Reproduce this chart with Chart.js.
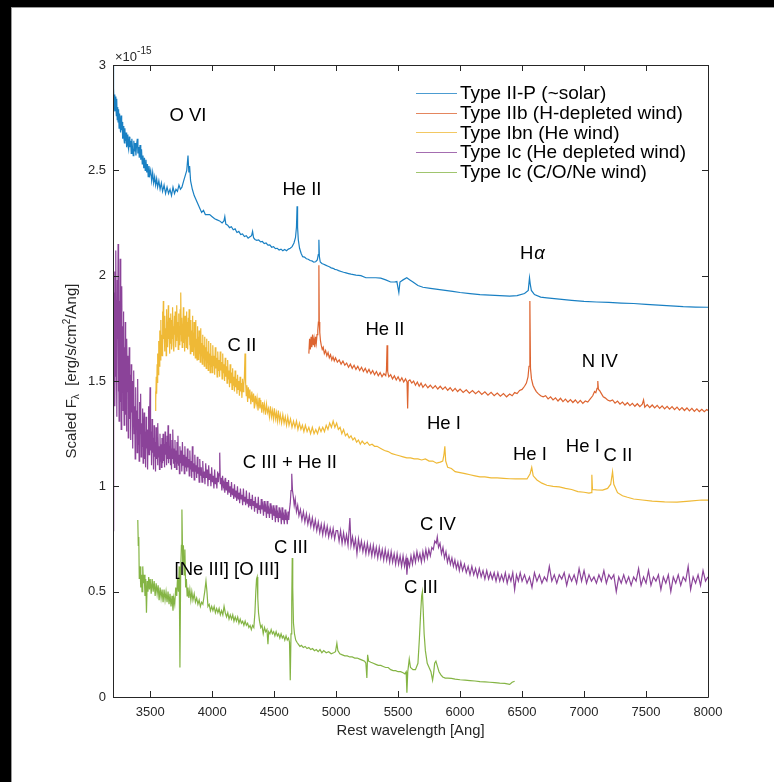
<!DOCTYPE html>
<html>
<head>
<meta charset="utf-8">
<script src="https://cdn.jsdelivr.net/npm/chart.js@4.4.1/dist/chart.umd.min.js"></script>
<style>
  body { margin: 0; background: #fff; }
  canvas { display: block; }
</style>
</head>
<body>
<canvas id="myChart" width="774" height="782"></canvas>
<script>
// spectra: [rest wavelength (Ang), flux (1e-15 erg/s/cm2/Ang)]
const typeIIP = [[3200,3.00],[3203,2.80],[3206,2.89],[3209,2.82],[3213,2.86],[3216,2.78],[3220,2.85],[3223,2.80],[3227,2.76],[3230,2.84],
  [3234,2.74],[3238,2.80],[3241,2.73],[3245,2.79],[3249,2.70],[3253,2.77],[3257,2.72],[3261,2.68],[3265,2.76],[3270,2.69],
  [3274,2.73],[3278,2.65],[3283,2.71],[3287,2.66],[3292,2.63],[3296,2.70],[3300,2.64],[3305,2.68],[3310,2.61],[3315,2.67],
  [3320,2.62],[3326,2.60],[3331,2.66],[3336,2.61],[3342,2.64],[3347,2.58],[3352,2.65],[3358,2.60],[3363,2.57],[3368,2.64],
  [3374,2.59],[3379,2.63],[3385,2.57],[3390,2.62],[3396,2.65],[3401,2.58],[3407,2.61],[3412,2.56],[3418,2.62],[3424,2.55],
  [3430,2.60],[3436,2.53],[3442,2.57],[3448,2.51],[3454,2.56],[3460,2.50],[3466,2.55],[3472,2.49],[3478,2.53],[3484,2.47],
  [3490,2.52],[3497,2.48],[3504,2.50],[3512,2.45],[3520,2.49],[3528,2.44],[3536,2.47],[3544,2.43],[3552,2.46],[3560,2.42],
  [3570,2.45],[3580,2.41],[3590,2.44],[3600,2.40],[3612,2.43],[3624,2.39],[3636,2.42],[3648,2.39],[3660,2.41],[3672,2.38],
  [3684,2.42],[3696,2.39],[3708,2.41],[3720,2.40],[3732,2.43],[3744,2.41],[3756,2.42],[3770,2.45],[3785,2.48],[3795,2.50],
  [3805,2.57],[3812,2.49],[3818,2.52],[3826,2.45],[3840,2.41],[3855,2.38],[3870,2.36],[3885,2.34],[3900,2.32],[3915,2.30],
  [3930,2.31],[3945,2.29],[3960,2.29],[3980,2.29],[4000,2.28],[4020,2.27],[4040,2.265],[4060,2.26],[4080,2.25],[4095,2.26],
  [4102,2.28],[4110,2.245],[4125,2.24],[4140,2.228],[4155,2.232],[4170,2.218],[4185,2.222],[4200,2.205],[4215,2.21],[4230,2.195],
  [4245,2.198],[4260,2.186],[4275,2.19],[4290,2.178],[4305,2.185],[4318,2.19],[4326,2.21],[4334,2.18],[4345,2.172],[4360,2.168],
  [4375,2.17],[4390,2.16],[4405,2.162],[4420,2.152],[4435,2.155],[4450,2.145],[4465,2.146],[4480,2.135],[4495,2.138],[4510,2.128],
  [4525,2.13],[4540,2.122],[4555,2.126],[4570,2.118],[4585,2.124],[4600,2.118],[4615,2.126],[4630,2.13],[4645,2.138],[4660,2.155],
  [4672,2.18],[4680,2.23],[4685,2.33],[4689,2.23],[4695,2.17],[4705,2.13],[4718,2.105],[4730,2.09],[4745,2.088],[4760,2.08],
  [4775,2.078],[4790,2.072],[4805,2.07],[4820,2.064],[4835,2.066],[4848,2.075],[4856,2.10],[4861,2.17],[4865,2.09],[4872,2.065],
  [4885,2.058],[4900,2.054],[4915,2.05],[4930,2.046],[4945,2.042],[4960,2.037],[4975,2.035],[4990,2.03],[5005,2.028],[5020,2.024],
  [5040,2.02],[5060,2.016],[5080,2.013],[5100,2.01],[5120,2.007],[5140,2.005],[5160,2.003],[5200,2.0],[5240,1.99],[5280,1.99],
  [5320,1.99],[5360,1.988],[5400,1.98],[5440,1.97],[5470,1.97],[5490,1.972],[5506,1.92],[5515,1.97],[5540,1.98],[5570,1.99],
  [5595,1.98],[5620,1.97],[5660,1.953],[5700,1.945],[5760,1.94],[5820,1.935],[5880,1.93],[5940,1.925],[6000,1.92],[6080,1.915],
  [6160,1.91],[6240,1.908],[6320,1.905],[6400,1.903],[6460,1.905],[6520,1.915],[6550,1.93],[6560,1.99],[6566,1.96],[6575,1.93],
  [6600,1.91],[6650,1.898],[6700,1.895],[6800,1.889],[6900,1.883],[7000,1.878],[7100,1.875],[7200,1.873],[7300,1.87],[7400,1.868],
  [7500,1.864],[7600,1.86],[7700,1.857],[7800,1.853],[7900,1.851],[8000,1.85]]

const typeIIb = [[4780,1.63],[4786,1.70],[4792,1.65],[4798,1.71],[4804,1.66],[4810,1.72],[4816,1.67],[4822,1.70],[4828,1.66],[4834,1.71],
  [4840,1.68],[4846,1.72],[4852,1.74],[4857,1.78],[4861,2.05],[4864,1.78],[4868,1.73],[4874,1.69],[4880,1.67],[4888,1.65],
  [4896,1.66],[4905,1.63],[4915,1.645],[4925,1.62],[4935,1.635],[4945,1.61],[4955,1.625],[4965,1.60],[4975,1.615],[4985,1.595],
  [4995,1.61],[5010,1.59],[5025,1.60],[5040,1.58],[5055,1.595],[5070,1.575],[5085,1.585],[5100,1.565],[5115,1.58],[5130,1.56],
  [5145,1.575],[5160,1.555],[5175,1.57],[5190,1.55],[5205,1.565],[5220,1.545],[5235,1.56],[5250,1.54],[5265,1.555],[5280,1.535],
  [5295,1.55],[5310,1.53],[5325,1.545],[5340,1.525],[5355,1.54],[5370,1.52],[5385,1.535],[5400,1.525],[5406,1.55],[5411,1.67],
  [5416,1.545],[5425,1.52],[5440,1.53],[5455,1.51],[5470,1.525],[5485,1.505],[5500,1.52],[5515,1.50],[5530,1.515],[5545,1.495],
  [5560,1.51],[5572,1.495],[5577,1.37],[5582,1.50],[5595,1.505],[5610,1.49],[5625,1.50],[5640,1.48],[5655,1.495],[5670,1.475],
  [5685,1.49],[5700,1.47],[5720,1.485],[5740,1.468],[5760,1.48],[5780,1.465],[5800,1.478],[5820,1.462],[5840,1.475],[5860,1.46],
  [5880,1.472],[5900,1.456],[5920,1.468],[5940,1.452],[5960,1.465],[5980,1.45],[6000,1.462],[6025,1.446],[6050,1.458],[6075,1.442],
  [6100,1.455],[6125,1.44],[6150,1.452],[6175,1.436],[6200,1.449],[6225,1.433],[6250,1.446],[6275,1.43],[6300,1.443],[6325,1.428],
  [6350,1.44],[6375,1.425],[6400,1.438],[6420,1.43],[6440,1.445],[6460,1.44],[6480,1.455],[6500,1.46],[6520,1.475],[6535,1.49],
  [6548,1.52],[6556,1.57],[6563,1.88],[6568,1.56],[6576,1.51],[6588,1.48],[6600,1.465],[6615,1.45],[6630,1.44],[6650,1.43],
  [6670,1.425],[6690,1.43],[6710,1.415],[6730,1.425],[6750,1.41],[6770,1.42],[6790,1.405],[6810,1.418],[6830,1.402],[6850,1.414],
  [6870,1.40],[6890,1.412],[6910,1.398],[6930,1.41],[6950,1.395],[6970,1.408],[6990,1.394],[7010,1.405],[7030,1.40],[7050,1.415],
  [7070,1.43],[7085,1.45],[7095,1.445],[7105,1.465],[7111,1.50],[7116,1.46],[7125,1.455],[7140,1.44],[7155,1.425],[7170,1.42],
  [7190,1.41],[7210,1.405],[7230,1.41],[7250,1.395],[7270,1.405],[7290,1.39],[7310,1.40],[7330,1.386],[7350,1.397],[7370,1.383],
  [7390,1.394],[7410,1.38],[7430,1.392],[7450,1.378],[7470,1.39],[7480,1.41],[7490,1.376],[7510,1.388],[7530,1.374],[7550,1.386],
  [7570,1.372],[7590,1.384],[7610,1.37],[7630,1.382],[7650,1.368],[7670,1.38],[7690,1.366],[7710,1.378],[7730,1.364],[7750,1.376],
  [7770,1.362],[7790,1.374],[7810,1.36],[7830,1.372],[7850,1.358],[7870,1.37],[7890,1.356],[7910,1.368],[7930,1.355],[7950,1.366],
  [7970,1.354],[7990,1.365],[8000,1.36]]

const typeIbn = [[3540,1.36],[3543,1.45],[3546,1.40],[3549,1.52],[3552,1.44],[3556,1.58],[3559,1.49],[3562,1.63],[3566,1.53],[3569,1.69],
  [3572,1.57],[3576,1.66],[3579,1.74],[3582,1.60],[3586,1.79],[3589,1.65],[3592,1.72],[3596,1.62],[3599,1.83],[3602,1.67],
  [3606,1.88],[3609,1.70],[3612,1.77],[3616,1.64],[3619,1.81],[3622,1.69],[3626,1.75],[3629,1.62],[3632,1.84],[3636,1.71],
  [3639,1.78],[3642,1.66],[3646,1.86],[3649,1.70],[3652,1.76],[3656,1.63],[3659,1.80],[3662,1.68],[3666,1.82],[3669,1.73],
  [3672,1.65],[3676,1.79],[3679,1.70],[3682,1.85],[3686,1.67],[3689,1.76],[3692,1.64],[3696,1.81],[3699,1.72],[3702,1.83],
  [3706,1.66],[3709,1.75],[3712,1.69],[3716,1.86],[3719,1.71],[3722,1.78],[3726,1.65],[3729,1.82],[3732,1.70],[3736,1.76],
  [3739,1.67],[3742,1.84],[3745,1.72],[3748,1.92],[3751,1.69],[3754,1.80],[3758,1.66],[3761,1.77],[3764,1.71],[3768,1.85],
  [3771,1.68],[3774,1.79],[3778,1.64],[3781,1.81],[3784,1.72],[3788,1.76],[3791,1.66],[3794,1.83],[3798,1.69],[3801,1.78],
  [3804,1.65],[3808,1.80],[3811,1.71],[3814,1.84],[3818,1.67],[3821,1.75],[3824,1.63],[3828,1.79],[3831,1.69],[3834,1.74],
  [3838,1.64],[3841,1.81],[3844,1.67],[3848,1.73],[3851,1.62],[3854,1.78],[3858,1.66],[3861,1.72],[3864,1.61],[3868,1.79],
  [3871,1.65],[3874,1.70],[3878,1.60],[3881,1.76],[3884,1.66],[3888,1.71],[3891,1.60],[3894,1.74],[3898,1.63],[3901,1.69],
  [3904,1.59],[3908,1.75],[3912,1.62],[3916,1.68],[3920,1.58],[3924,1.72],[3928,1.61],[3932,1.67],[3936,1.57],[3940,1.71],
  [3944,1.60],[3948,1.66],[3952,1.56],[3956,1.70],[3960,1.59],[3964,1.64],[3968,1.55],[3972,1.69],[3976,1.58],[3980,1.63],
  [3984,1.54],[3988,1.68],[3992,1.57],[3996,1.62],[4000,1.54],[4005,1.67],[4010,1.57],[4015,1.62],[4020,1.53],[4025,1.66],
  [4030,1.56],[4035,1.61],[4040,1.52],[4045,1.64],[4050,1.55],[4055,1.60],[4060,1.52],[4065,1.64],[4070,1.55],[4075,1.59],
  [4080,1.51],[4085,1.63],[4090,1.54],[4095,1.58],[4100,1.50],[4105,1.61],[4110,1.52],[4115,1.57],[4120,1.49],[4125,1.60],
  [4130,1.51],[4135,1.55],[4140,1.47],[4145,1.58],[4150,1.49],[4155,1.54],[4160,1.46],[4165,1.56],[4170,1.48],[4175,1.52],
  [4180,1.45],[4185,1.55],[4190,1.47],[4195,1.51],[4200,1.44],[4205,1.53],[4210,1.46],[4215,1.50],[4220,1.43],[4225,1.52],
  [4230,1.45],[4235,1.49],[4240,1.42],[4245,1.51],[4250,1.45],[4255,1.48],[4260,1.52],[4265,1.63],[4270,1.49],[4275,1.43],
  [4280,1.48],[4286,1.40],[4292,1.47],[4298,1.42],[4304,1.46],[4312,1.39],[4320,1.45],[4326,1.40],[4334,1.44],[4340,1.37],
  [4348,1.43],[4355,1.39],[4362,1.42],[4370,1.36],[4378,1.42],[4385,1.37],[4392,1.41],[4400,1.35],[4408,1.40],[4415,1.36],
  [4422,1.39],[4430,1.34],[4438,1.39],[4446,1.35],[4454,1.37],[4462,1.33],[4470,1.38],[4478,1.33],[4486,1.36],[4494,1.32],
  [4502,1.37],[4510,1.32],[4518,1.35],[4526,1.31],[4534,1.36],[4542,1.31],[4550,1.34],[4560,1.30],[4570,1.34],[4580,1.30],
  [4590,1.33],[4600,1.29],[4610,1.33],[4620,1.29],[4632,1.32],[4644,1.28],[4656,1.31],[4668,1.28],[4680,1.31],[4692,1.27],
  [4704,1.30],[4716,1.27],[4728,1.29],[4740,1.26],[4752,1.29],[4766,1.26],[4780,1.28],[4794,1.25],[4808,1.28],[4822,1.25],
  [4836,1.27],[4850,1.25],[4864,1.28],[4878,1.26],[4892,1.28],[4906,1.26],[4920,1.29],[4934,1.27],[4948,1.30],[4962,1.28],
  [4976,1.31],[4990,1.28],[5004,1.30],[5018,1.27],[5032,1.28],[5046,1.25],[5060,1.27],[5075,1.24],[5090,1.25],[5105,1.23],
  [5120,1.24],[5135,1.22],[5150,1.23],[5165,1.21],[5180,1.22],[5195,1.20],[5210,1.215],[5230,1.20],[5250,1.21],[5270,1.195],
  [5290,1.20],[5310,1.19],[5330,1.19],[5360,1.18],[5390,1.17],[5420,1.165],[5450,1.155],[5480,1.15],[5510,1.145],[5540,1.14],
  [5570,1.135],[5600,1.135],[5630,1.13],[5660,1.13],[5690,1.125],[5720,1.13],[5750,1.12],[5780,1.12],[5810,1.11],[5840,1.115],
  [5860,1.12],[5870,1.15],[5877,1.19],[5884,1.12],[5900,1.09],[5930,1.085],[5960,1.07],[6000,1.065],[6040,1.06],[6080,1.055],
  [6120,1.05],[6160,1.045],[6200,1.045],[6250,1.04],[6300,1.04],[6350,1.038],[6400,1.036],[6450,1.035],[6500,1.035],[6540,1.035],
  [6565,1.06],[6578,1.09],[6590,1.05],[6620,1.03],[6660,1.015],[6700,1.005],[6750,1.0],[6800,0.997],[6850,0.99],[6900,0.985],
  [6950,0.975],[7000,0.972],[7040,0.968],[7058,0.97],[7063,1.055],[7068,0.985],[7100,0.983],[7150,0.982],[7190,0.99],[7215,1.01],
  [7230,1.07],[7240,1.01],[7270,0.97],[7310,0.955],[7350,0.948],[7400,0.94],[7470,0.935],[7550,0.93],[7650,0.926],[7750,0.925],
  [7850,0.93],[7950,0.935],[8000,0.935]]

const typeIcHe = [[3200,0.79],[3202,1.55],[3205,1.20],[3208,1.92],[3210,1.48],[3213,2.02],[3216,1.38],[3219,1.70],[3221,1.52],[3224,2.12],
  [3227,1.62],[3230,1.85],[3232,1.33],[3235,1.98],[3238,1.70],[3241,2.15],[3244,1.45],[3246,1.66],[3249,1.31],[3252,1.88],
  [3255,1.58],[3258,2.08],[3261,1.40],[3264,1.72],[3266,1.27],[3269,1.60],[3272,1.95],[3275,1.47],[3278,1.76],[3281,1.36],
  [3284,1.83],[3287,1.50],[3290,1.29],[3293,1.66],[3296,1.42],[3299,1.78],[3302,1.34],[3306,1.57],[3309,1.26],[3312,1.70],
  [3316,1.45],[3320,1.62],[3323,1.23],[3327,1.48],[3331,1.66],[3335,1.32],[3339,1.53],[3343,1.22],[3347,1.58],[3351,1.35],
  [3355,1.50],[3359,1.18],[3363,1.42],[3367,1.55],[3371,1.25],[3375,1.38],[3379,1.13],[3383,1.47],[3387,1.28],[3391,1.36],
  [3395,1.16],[3399,1.51],[3403,1.20],[3407,1.32],[3411,1.12],[3415,1.40],[3419,1.25],[3423,1.44],[3427,1.14],[3431,1.30],
  [3435,1.19],[3439,1.37],[3443,1.11],[3447,1.27],[3451,1.35],[3455,1.13],[3459,1.26],[3463,1.09],[3467,1.33],[3471,1.18],
  [3475,1.27],[3479,1.08],[3483,1.24],[3487,1.38],[3491,1.15],[3495,1.30],[3499,1.47],[3503,1.17],[3507,1.26],[3511,1.10],
  [3515,1.32],[3519,1.16],[3523,1.23],[3527,1.08],[3531,1.29],[3535,1.14],[3539,1.21],[3543,1.07],[3547,1.28],[3551,1.13],
  [3555,1.23],[3559,1.10],[3563,1.30],[3567,1.14],[3571,1.19],[3575,1.08],[3579,1.25],[3583,1.12],[3587,1.20],[3591,1.09],
  [3595,1.23],[3600,1.11],[3604,1.25],[3608,1.12],[3612,1.20],[3616,1.09],[3620,1.26],[3624,1.15],[3628,1.21],[3632,1.10],
  [3636,1.24],[3640,1.13],[3644,1.29],[3648,1.11],[3652,1.19],[3656,1.13],[3660,1.25],[3664,1.10],[3668,1.18],[3672,1.08],
  [3676,1.22],[3680,1.13],[3684,1.27],[3688,1.11],[3692,1.18],[3696,1.09],[3700,1.22],[3704,1.12],[3708,1.17],[3712,1.08],
  [3716,1.21],[3720,1.11],[3724,1.24],[3728,1.10],[3732,1.15],[3736,1.06],[3740,1.19],[3745,1.11],[3750,1.17],[3755,1.07],
  [3760,1.21],[3765,1.10],[3770,1.15],[3775,1.06],[3780,1.19],[3785,1.09],[3790,1.14],[3795,1.07],[3800,1.18],[3805,1.09],
  [3810,1.13],[3815,1.05],[3820,1.17],[3825,1.08],[3830,1.12],[3835,1.04],[3840,1.19],[3845,1.07],[3850,1.11],[3855,1.03],
  [3860,1.15],[3865,1.07],[3870,1.10],[3875,1.04],[3880,1.14],[3885,1.06],[3890,1.09],[3895,1.02],[3900,1.13],[3906,1.05],
  [3912,1.09],[3918,1.02],[3924,1.12],[3930,1.04],[3936,1.07],[3942,1.01],[3948,1.11],[3954,1.04],[3960,1.08],[3966,1.00],
  [3972,1.10],[3978,1.03],[3984,1.06],[3990,1.00],[3996,1.09],[4002,1.02],[4008,1.05],[4014,0.99],[4020,1.08],[4026,1.01],
  [4032,1.04],[4038,0.99],[4044,1.07],[4050,1.02],[4056,1.06],[4061,1.16],[4066,1.01],[4072,1.04],[4078,0.98],[4084,1.05],
  [4090,1.00],[4096,1.02],[4102,0.97],[4108,1.04],[4114,0.98],[4120,1.02],[4126,0.96],[4132,1.03],[4138,0.97],[4144,1.00],
  [4150,0.95],[4156,1.02],[4162,0.96],[4168,0.99],[4174,0.94],[4180,1.01],[4186,0.95],[4192,0.98],[4198,0.93],[4204,1.00],
  [4210,0.94],[4216,0.97],[4222,0.92],[4228,0.99],[4234,0.94],[4240,0.96],[4246,0.91],[4252,0.99],[4258,0.93],[4264,0.95],
  [4270,0.91],[4276,0.98],[4282,0.92],[4288,0.94],[4294,0.90],[4300,0.97],[4306,0.91],[4312,0.94],[4318,0.89],[4324,0.96],
  [4330,0.91],[4336,0.93],[4342,0.88],[4348,0.95],[4354,0.90],[4360,0.92],[4366,0.87],[4372,0.95],[4378,0.89],[4384,0.91],
  [4390,0.87],[4396,0.94],[4402,0.89],[4408,0.91],[4414,0.86],[4420,0.93],[4426,0.88],[4432,0.90],[4438,0.85],[4444,0.93],
  [4450,0.87],[4456,0.89],[4462,0.85],[4468,0.92],[4474,0.87],[4480,0.89],[4486,0.84],[4492,0.91],[4498,0.86],[4504,0.88],
  [4510,0.83],[4516,0.91],[4522,0.85],[4528,0.87],[4534,0.83],[4540,0.90],[4546,0.85],[4552,0.87],[4558,0.82],[4564,0.90],
  [4570,0.84],[4576,0.86],[4582,0.82],[4588,0.89],[4594,0.84],[4600,0.86],[4606,0.82],[4612,0.88],[4618,0.84],[4624,0.89],
  [4630,0.92],[4636,0.98],[4640,1.01],[4644,1.06],[4648,0.98],[4655,0.95],[4662,0.91],[4670,0.94],[4680,0.88],[4690,0.91],
  [4700,0.86],[4712,0.89],[4724,0.84],[4736,0.88],[4748,0.83],[4760,0.87],[4772,0.82],[4784,0.86],[4796,0.81],[4808,0.85],
  [4820,0.80],[4832,0.84],[4844,0.79],[4856,0.83],[4868,0.78],[4880,0.82],[4892,0.77],[4904,0.82],[4916,0.77],[4928,0.81],
  [4940,0.76],[4952,0.80],[4964,0.76],[4976,0.80],[4988,0.75],[5000,0.79],[5012,0.79],[5024,0.74],[5036,0.79],[5048,0.73],
  [5060,0.78],[5072,0.73],[5084,0.77],[5096,0.72],[5111,0.85],[5120,0.72],[5132,0.76],[5144,0.71],[5156,0.75],[5168,0.68],
  [5180,0.75],[5192,0.70],[5204,0.74],[5216,0.69],[5228,0.73],[5240,0.68],[5252,0.73],[5264,0.68],[5276,0.72],[5288,0.67],
  [5300,0.72],[5312,0.67],[5324,0.71],[5336,0.66],[5348,0.71],[5360,0.66],[5372,0.70],[5384,0.65],[5396,0.70],[5408,0.65],
  [5420,0.69],[5432,0.64],[5444,0.69],[5456,0.64],[5468,0.68],[5480,0.63],[5492,0.68],[5504,0.63],[5516,0.67],[5528,0.62],
  [5540,0.67],[5552,0.62],[5564,0.66],[5571,0.58],[5580,0.65],[5592,0.62],[5604,0.67],[5616,0.63],[5628,0.68],[5640,0.64],
  [5652,0.69],[5664,0.65],[5676,0.68],[5688,0.64],[5700,0.69],[5712,0.65],[5724,0.70],[5736,0.66],[5748,0.70],[5760,0.67],
  [5772,0.71],[5784,0.70],[5796,0.74],[5808,0.73],[5816,0.76],[5826,0.71],[5838,0.73],[5850,0.68],[5862,0.71],[5874,0.66],
  [5886,0.69],[5898,0.64],[5910,0.67],[5922,0.63],[5934,0.66],[5946,0.62],[5958,0.65],[5970,0.61],[5982,0.64],[5994,0.60],
  [6006,0.64],[6020,0.60],[6035,0.63],[6050,0.59],[6065,0.62],[6080,0.58],[6095,0.62],[6110,0.58],[6125,0.61],[6140,0.57],
  [6155,0.61],[6170,0.57],[6185,0.60],[6200,0.56],[6215,0.60],[6230,0.56],[6245,0.59],[6260,0.56],[6275,0.59],[6290,0.55],
  [6305,0.59],[6320,0.55],[6335,0.58],[6350,0.55],[6365,0.59],[6380,0.54],[6395,0.58],[6410,0.55],[6425,0.59],[6440,0.51],
  [6455,0.58],[6470,0.55],[6485,0.59],[6500,0.55],[6520,0.58],[6540,0.54],[6560,0.57],[6580,0.52],[6600,0.59],[6620,0.55],
  [6640,0.58],[6660,0.54],[6680,0.57],[6700,0.55],[6720,0.62],[6740,0.55],[6760,0.58],[6780,0.54],[6800,0.58],[6820,0.56],
  [6840,0.59],[6860,0.53],[6880,0.58],[6900,0.55],[6920,0.58],[6940,0.54],[6960,0.61],[6980,0.55],[7000,0.60],[7020,0.54],
  [7040,0.58],[7060,0.55],[7080,0.57],[7100,0.54],[7120,0.58],[7140,0.55],[7160,0.60],[7180,0.54],[7200,0.58],[7220,0.56],
  [7240,0.58],[7260,0.50],[7280,0.57],[7300,0.54],[7320,0.58],[7340,0.54],[7360,0.57],[7380,0.53],[7400,0.57],[7420,0.55],
  [7440,0.61],[7460,0.53],[7480,0.57],[7500,0.54],[7520,0.60],[7540,0.53],[7560,0.57],[7580,0.55],[7600,0.58],[7620,0.51],
  [7640,0.57],[7660,0.54],[7680,0.58],[7700,0.50],[7720,0.57],[7740,0.54],[7760,0.58],[7780,0.53],[7800,0.57],[7820,0.55],
  [7840,0.62],[7860,0.51],[7880,0.57],[7900,0.54],[7920,0.58],[7940,0.53],[7960,0.60],[7980,0.55],[8000,0.57]]

const typeIcCONe = [[3400,0.84],[3404,0.72],[3408,0.76],[3412,0.56],[3418,0.62],[3424,0.52],[3430,0.58],[3434,0.50],[3440,0.62],[3446,0.54],
  [3452,0.58],[3458,0.48],[3464,0.56],[3470,0.40],[3476,0.55],[3482,0.50],[3488,0.57],[3494,0.51],[3500,0.56],[3508,0.49],
  [3516,0.56],[3524,0.50],[3532,0.55],[3540,0.48],[3548,0.54],[3556,0.49],[3564,0.53],[3572,0.46],[3580,0.52],[3588,0.47],
  [3596,0.51],[3604,0.45],[3612,0.51],[3620,0.46],[3628,0.50],[3636,0.45],[3644,0.50],[3652,0.44],[3660,0.49],[3668,0.43],
  [3676,0.48],[3684,0.41],[3690,0.47],[3698,0.44],[3706,0.52],[3714,0.48],[3720,0.56],[3728,0.50],[3734,0.62],[3740,0.14],
  [3746,0.60],[3752,0.72],[3756,0.89],[3762,0.64],[3768,0.72],[3774,0.58],[3780,0.70],[3786,0.52],[3792,0.56],[3798,0.48],
  [3805,0.52],[3812,0.47],[3820,0.51],[3828,0.46],[3836,0.50],[3845,0.46],[3855,0.49],[3865,0.45],[3875,0.47],[3885,0.44],
  [3895,0.46],[3905,0.43],[3915,0.45],[3925,0.44],[3940,0.50],[3950,0.55],[3958,0.50],[3966,0.43],[3976,0.44],[3986,0.41],
  [3996,0.43],[4006,0.41],[4016,0.43],[4026,0.40],[4036,0.42],[4046,0.40],[4056,0.42],[4066,0.39],[4076,0.41],[4086,0.39],
  [4096,0.43],[4106,0.40],[4116,0.38],[4126,0.40],[4136,0.37],[4146,0.39],[4156,0.37],[4166,0.39],[4176,0.36],[4186,0.38],
  [4196,0.36],[4206,0.38],[4216,0.35],[4226,0.37],[4236,0.35],[4246,0.36],[4256,0.34],[4266,0.36],[4276,0.34],[4286,0.35],
  [4296,0.33],[4306,0.34],[4316,0.32],[4326,0.34],[4336,0.33],[4345,0.40],[4352,0.50],[4358,0.56],[4363,0.57],[4368,0.47],
  [4374,0.40],[4382,0.36],[4392,0.33],[4402,0.34],[4412,0.30],[4422,0.33],[4432,0.31],[4442,0.32],[4450,0.25],[4456,0.31],
  [4466,0.30],[4476,0.32],[4486,0.30],[4496,0.31],[4506,0.29],[4516,0.31],[4526,0.29],[4536,0.30],[4546,0.28],[4556,0.30],
  [4566,0.28],[4576,0.29],[4586,0.27],[4596,0.29],[4606,0.27],[4616,0.28],[4624,0.26],[4630,0.08],[4636,0.30],[4642,0.45],
  [4646,0.66],[4650,0.52],[4656,0.35],[4664,0.30],[4674,0.27],[4684,0.26],[4696,0.25],[4708,0.24],[4720,0.245],[4735,0.235],
  [4750,0.24],[4765,0.23],[4780,0.235],[4795,0.225],[4810,0.23],[4825,0.22],[4840,0.225],[4855,0.215],[4870,0.225],[4885,0.21],
  [4900,0.22],[4920,0.21],[4940,0.215],[4960,0.205],[4980,0.21],[4995,0.215],[5006,0.255],[5014,0.22],[5030,0.205],[5050,0.20],
  [5070,0.195],[5090,0.195],[5110,0.19],[5130,0.19],[5150,0.185],[5170,0.185],[5190,0.18],[5210,0.175],[5230,0.17],[5240,0.16],
  [5248,0.09],[5254,0.20],[5262,0.17],[5280,0.165],[5300,0.16],[5320,0.155],[5340,0.15],[5360,0.15],[5380,0.145],[5400,0.14],
  [5420,0.14],[5440,0.13],[5460,0.125],[5480,0.125],[5500,0.12],[5520,0.12],[5540,0.115],[5555,0.11],[5565,0.12],[5571,0.02],
  [5578,0.12],[5590,0.18],[5600,0.14],[5620,0.13],[5640,0.13],[5660,0.16],[5672,0.28],[5682,0.40],[5690,0.48],[5696,0.50],
  [5702,0.42],[5710,0.30],[5720,0.22],[5735,0.16],[5750,0.14],[5765,0.12],[5778,0.08],[5786,0.11],[5795,0.16],[5805,0.17],
  [5815,0.15],[5830,0.12],[5845,0.105],[5860,0.095],[5880,0.09],[5900,0.09],[5930,0.088],[5960,0.085],[6000,0.082],[6040,0.08],
  [6080,0.078],[6120,0.076],[6160,0.073],[6200,0.072],[6240,0.07],[6280,0.068],[6320,0.066],[6360,0.065],[6400,0.06],[6420,0.07],
  [6440,0.075]]

const seriesNames = ['Type II-P (~solar)', 'Type IIb (H-depleted wind)', 'Type Ibn (He wind)', 'Type Ic (He depleted wind)', 'Type Ic (C/O/Ne wind)']
const seriesData = [typeIIP, typeIIb, typeIbn, typeIcHe, typeIcCONe]
const seriesColors = ['#0072BD', '#D95319', '#EDB120', '#7E2F8E', '#77AC30']

const xTicks = [3500, 4000, 4500, 5000, 5500, 6000, 6500, 7000, 7500, 8000]
const yTicks = [0, 0.5, 1, 1.5, 2, 2.5, 3]

// line identifications, placed in data coordinates
const lineLabels = [
  ['O VI', 3805, 2.757], ['He II', 4724, 2.406], ['H\u03b1', 6579, 2.102],
  ['He II', 5394, 1.742], ['N IV', 7127, 1.590], ['C II', 4240, 1.666],
  ['He I', 5869, 1.296], ['He I', 6563, 1.149], ['He I', 6990, 1.187], ['C II', 7273, 1.144],
  ['C III + He II', 4627, 1.111], ['C IV', 5821, 0.816], ['C III', 4635, 0.707],
  ['[Ne III] [O III]', 4119, 0.603], ['C III', 5684, 0.517]
]

const FONT = '"Liberation Sans", Arial, Helvetica, sans-serif'
const AXIS = '#262626'

function rgba(hex, a) {
    let n = parseInt(hex.slice(1), 16)
    return `rgba(${n >> 16},${(n >> 8) & 255},${n & 255},${a})`
}

const framePlugin = {
    id: 'frame',
    beforeDraw(chart) {
        let ctx = chart.ctx
        ctx.save()
        ctx.fillStyle = '#fff'
        ctx.fillRect(0, 0, chart.width, chart.height)
        // black edges of the original screenshot
        ctx.fillStyle = '#000'
        ctx.fillRect(0, 0, chart.width, 7)
        ctx.fillRect(0, 0, 11, chart.height)
        ctx.fillStyle = '#9a9a9a'
        ctx.fillRect(11, 7, 1, chart.height)
        ctx.fillRect(11, 7, chart.width, 1)
        ctx.restore()
    },
    afterDraw(chart) {
        let ctx = chart.ctx
        let a = chart.chartArea
        let xs = chart.scales.x, ys = chart.scales.y
        ctx.save()
        ctx.strokeStyle = AXIS
        ctx.lineWidth = 1
        ctx.beginPath()
        ctx.rect(Math.round(a.left) + 0.5, Math.round(a.top) + 0.5, Math.round(a.right - a.left), Math.round(a.bottom - a.top))
        xTicks.forEach(v => {
            let px = Math.round(xs.getPixelForValue(v)) + 0.5
            ctx.moveTo(px, a.bottom); ctx.lineTo(px, a.bottom - 6)
            ctx.moveTo(px, a.top); ctx.lineTo(px, a.top + 6)
        })
        yTicks.forEach(v => {
            let py = Math.round(ys.getPixelForValue(v)) + 0.5
            ctx.moveTo(a.left, py); ctx.lineTo(a.left + 6, py)
            ctx.moveTo(a.right, py); ctx.lineTo(a.right - 6, py)
        })
        ctx.stroke()

        // exponent
        ctx.fillStyle = AXIS
        ctx.textBaseline = 'alphabetic'
        ctx.textAlign = 'left'
        ctx.font = `13px ${FONT}`
        ctx.fillText('\u00d710', a.left + 2, a.top - 4)
        let w = ctx.measureText('\u00d710').width
        ctx.font = `10px ${FONT}`
        ctx.fillText('-15', a.left + 2 + w, a.top - 11)

        // x title
        ctx.font = `14.8px ${FONT}`
        ctx.textAlign = 'center'
        ctx.textBaseline = 'middle'
        ctx.fillText('Rest wavelength [Ang]', (a.left + a.right) / 2, 731)

        // y title with sub/superscript
        let parts = [['Scaled F', 15, 0], ['\u03bb', 10, 4], ['  [erg/s/cm', 15, 0], ['2', 10, -5], ['/Ang]', 15, 0]]
        let total = 0
        parts.forEach(p => { ctx.font = `${p[1]}px ${FONT}`; total += ctx.measureText(p[0]).width })
        ctx.translate(72, 371)
        ctx.rotate(-Math.PI / 2)
        ctx.textAlign = 'left'
        let cx = -total / 2
        parts.forEach(p => {
            ctx.font = `${p[1]}px ${FONT}`
            ctx.fillText(p[0], cx, p[2])
            cx += ctx.measureText(p[0]).width
        })
        ctx.setTransform(1, 0, 0, 1, 0, 0)

        // line labels (the alpha of H-alpha is set in italic)
        ctx.fillStyle = '#000'
        lineLabels.forEach(l => {
            let px = xs.getPixelForValue(l[1]), py = ys.getPixelForValue(l[2])
            if (l[0] === 'H\u03b1') {
                ctx.font = `18.5px ${FONT}`
                let wh = ctx.measureText('H').width
                ctx.font = `italic 18.5px ${FONT}`
                let wa = ctx.measureText('\u03b1').width
                ctx.textAlign = 'left'
                ctx.font = `18.5px ${FONT}`
                ctx.fillText('H', px - (wh + wa) / 2, py)
                ctx.font = `italic 18.5px ${FONT}`
                ctx.fillText('\u03b1', px - (wh + wa) / 2 + wh + 1, py)
            } else {
                ctx.font = `18.5px ${FONT}`
                ctx.textAlign = 'center'
                ctx.fillText(l[0], px, py)
            }
        })

        // legend
        ctx.textAlign = 'left'
        ctx.font = `19px ${FONT}`
        seriesNames.forEach((name, i) => {
            let y = 93 + i * 19.7
            ctx.strokeStyle = rgba(seriesColors[i], 0.7)
            ctx.beginPath()
            ctx.moveTo(416, Math.round(y) + 0.5); ctx.lineTo(457, Math.round(y) + 0.5)
            ctx.stroke()
            ctx.fillStyle = '#000'
            ctx.fillText(name, 460, y + 1)
        })
        ctx.restore()
    }
}

new Chart('myChart', {
    type: 'line',
    data: {
        datasets: seriesData.map((d, i) => ({
            label: seriesNames[i],
            data: d.map(p => ({x: p[0], y: p[1]})),
            borderColor: rgba(seriesColors[i], 0.9),
            borderWidth: 1.2,
            pointRadius: 0,
            tension: 0,
            fill: false,
            order: 5 - i
        }))
    },
    options: {
        responsive: false,
        animation: false,
        devicePixelRatio: 1,
        layout: {padding: {left: 0, top: 65, right: 66, bottom: 0}},
        plugins: {legend: {display: false}, tooltip: {enabled: false}},
        scales: {
            x: {
                type: 'linear', min: 3200, max: 8000,
                afterBuildTicks: s => { s.ticks = xTicks.map(v => ({value: v})) },
                afterFit: s => { s.height = 85 },
                grid: {display: false, drawTicks: false},
                border: {display: false},
                ticks: {padding: 8, color: AXIS, maxRotation: 0, autoSkip: false, font: {family: FONT, size: 13}, callback: v => String(v)}
            },
            y: {
                type: 'linear', min: 0, max: 3,
                afterBuildTicks: s => { s.ticks = yTicks.map(v => ({value: v})) },
                afterFit: s => { s.width = 113 },
                grid: {display: false, drawTicks: false},
                border: {display: false},
                ticks: {padding: 7, color: AXIS, autoSkip: false, font: {family: FONT, size: 13}, callback: v => String(v)}
            }
        }
    },
    plugins: [framePlugin]
})
</script>
</body>
</html>
